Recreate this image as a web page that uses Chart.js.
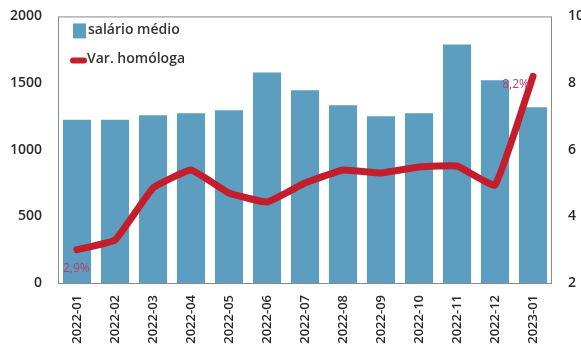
<!DOCTYPE html>
<html>
<head>
<meta charset="utf-8">
<script src="https://cdn.jsdelivr.net/npm/chart.js@4/dist/chart.umd.min.js"></script>
<style>
html,body{margin:0;padding:0;background:#fff;}
#wrap{width:581px;height:350px;position:relative;}
</style>
</head>
<body>
<div id="wrap"><canvas id="c" width="581" height="350"></canvas></div>
<script>
const categories = ["2022-01","2022-02","2022-03","2022-04","2022-05","2022-06","2022-07","2022-08","2022-09","2022-10","2022-11","2022-12","2023-01"];
const salarioMedio = [1225,1225,1258,1273,1296,1580,1446,1333,1251,1273,1790,1521,1318];
const varHomologa = [3.0,3.29,4.85,5.39,4.70,4.43,5.0,5.39,5.30,5.48,5.51,4.94,8.2];
const leftTicks = [0,500,1000,1500,2000];
const rightTicks = [2,4,6,8,10];
const pointLabels = {0:"2,9%", 12:"8,2%"};

const FONT = "'Open Sans', 'DejaVu Sans', sans-serif";
const BAR = "#5d9ec0";
const RED = "#c41e2d";

const areaBorder = {
  id:'areaBorder',
  afterDatasetsDraw(chart){
    const {ctx, chartArea:a} = chart;
    ctx.save();
    ctx.strokeStyle = '#8a8a8a';
    ctx.lineWidth = 1;
    ctx.strokeRect(a.left+0.5, a.top+0.5, a.right-a.left-1, a.bottom-a.top);
    ctx.restore();
  }
};

const labelsPlugin = {
  id:'labelsPlugin',
  afterDatasetsDraw(chart){
    const {ctx} = chart;
    const meta = chart.getDatasetMeta(1);
    ctx.save();
    ctx.font = "12px " + FONT;
    ctx.fillStyle = '#c03a6a';
    ctx.textBaseline = 'middle';
    Object.keys(pointLabels).forEach(k=>{
      const p = meta.data[+k];
      if (+k === 0) { ctx.textAlign='left'; ctx.fillText(pointLabels[k], p.x-14, p.y+19); }
      else { ctx.textAlign='right'; ctx.fillText(pointLabels[k], p.x-4, p.y+8); }
    });
    // legend
    const a = chart.chartArea;
    ctx.font = "600 14px " + FONT;
    ctx.textAlign = 'left';
    ctx.fillStyle = BAR;
    ctx.fillRect(a.left+15, a.top+7, 13, 15);
    ctx.fillStyle = '#333';
    ctx.fillText(chart.data.datasets[0].label, a.left+30, a.top+14);
    ctx.strokeStyle = RED;
    ctx.lineWidth = 6;
    ctx.lineCap = 'round';
    ctx.beginPath();
    ctx.moveTo(a.left+15, a.top+44);
    ctx.lineTo(a.left+26, a.top+44);
    ctx.stroke();
    ctx.fillText(chart.data.datasets[1].label, a.left+29, a.top+43);
    ctx.restore();
  }
};

new Chart(document.getElementById('c'), {
  data: {
    labels: categories,
    datasets: [
      {type:'bar', label:'salário médio', data: salarioMedio, backgroundColor: BAR, yAxisID:'y',
       categoryPercentage:1.0, barPercentage:0.74, order:2},
      {type:'line', label:'Var. homóloga', data: varHomologa, borderColor: RED, borderWidth:7,
       pointRadius:0, tension:0.1, borderCapStyle:'round', borderJoinStyle:'round', yAxisID:'y1', order:1}
    ]
  },
  options: {
    responsive:false,
    animation:false,
    layout:{padding:{top:16,left:0,right:0,bottom:0}},
    plugins:{legend:{display:false}, tooltip:{enabled:false}},
    scales:{
      x:{
        grid:{display:false},
        border:{display:false},
        ticks:{color:'#2a2a2a', font:{family:FONT, size:13, weight:'600'}, maxRotation:90, minRotation:90, padding:4},
        afterFit(s){ s.height = 67; }
      },
      y:{
        position:'left', min:0, max:2000,
        afterBuildTicks(s){ s.ticks = leftTicks.map(v=>({value:v})); },
        grid:{display:false}, border:{display:false},
        ticks:{color:'#2a2a2a', font:{family:FONT, size:14, weight:'600'}, padding:8, callback:v=>String(v)},
        afterFit(s){ s.width = 58; }
      },
      y1:{
        position:'right', min:2, max:10,
        afterBuildTicks(s){ s.ticks = rightTicks.map(v=>({value:v})); },
        grid:{display:false}, border:{display:false},
        ticks:{color:'#2a2a2a', font:{family:FONT, size:14, weight:'600'}, padding:8, callback:v=>String(v)},
        afterFit(s){ s.width = 29; }
      }
    }
  },
  plugins:[areaBorder, labelsPlugin]
});
</script>
</body>
</html>
